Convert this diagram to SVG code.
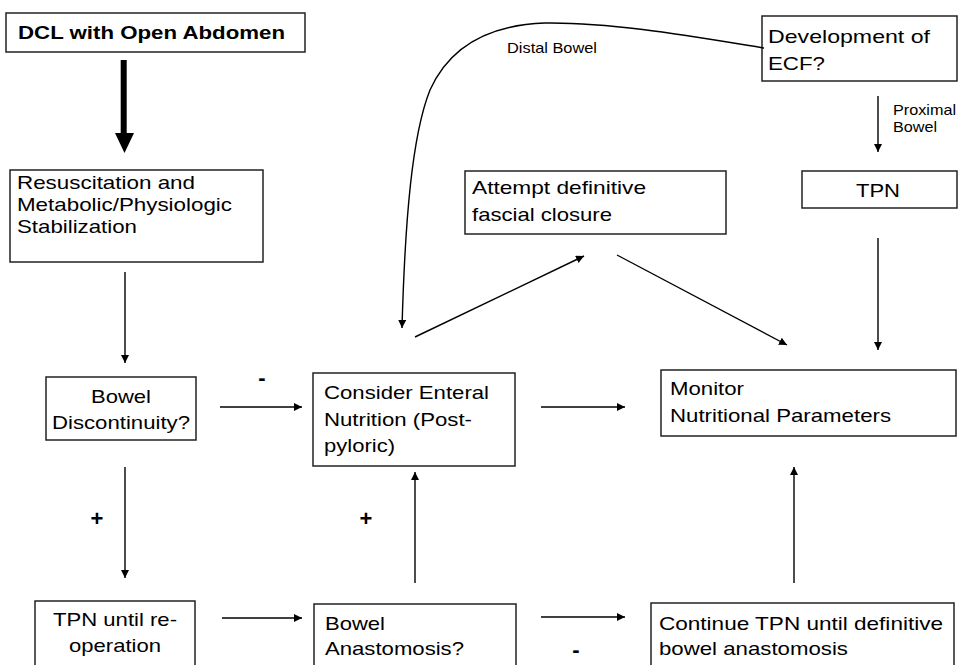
<svg xmlns="http://www.w3.org/2000/svg" width="959" height="665" viewBox="0 0 959 665">
<defs>
<marker id="ah" viewBox="0 0 10 10" refX="10" refY="5" markerWidth="8" markerHeight="8" markerUnits="userSpaceOnUse" orient="auto">
<path d="M0,0 L10,5 L0,10 Z" fill="#000"/>
</marker>
<style>
.box{fill:#fff;stroke:#222;stroke-width:1.5}
.t{font-family:"Liberation Sans",Arial,sans-serif;font-size:18.5px;fill:#000}
.b{font-weight:bold;font-size:18px}
.s{font-size:14.5px}
.c{text-anchor:middle}
.ln{fill:none;stroke:#000;stroke-width:1.4;marker-end:url(#ah)}
.sign{font-family:"Liberation Sans",Arial,sans-serif;font-weight:bold;font-size:22px;fill:#000;text-anchor:middle}
</style>
</defs>
<rect width="959" height="665" fill="#fff"/>

<g id="n-dcl">
<rect class="box" x="6" y="13" width="299" height="39"/>
<text class="t b" x="18" y="39" textLength="267" lengthAdjust="spacingAndGlyphs">DCL with  Open Abdomen</text>
</g>

<g id="n-resus">
<rect class="box" x="10" y="170" width="253" height="92"/>
<text class="t" x="17" y="189" textLength="178" lengthAdjust="spacingAndGlyphs">Resuscitation and</text>
<text class="t" x="17" y="211" textLength="215" lengthAdjust="spacingAndGlyphs">Metabolic/Physiologic</text>
<text class="t" x="17" y="233" textLength="120" lengthAdjust="spacingAndGlyphs">Stabilization</text>
</g>

<g id="n-disc">
<rect class="box" x="46" y="377" width="150" height="63"/>
<text class="t c" x="121" y="403" textLength="60" lengthAdjust="spacingAndGlyphs">Bowel</text>
<text class="t c" x="121" y="429" textLength="138" lengthAdjust="spacingAndGlyphs">Discontinuity?</text>
</g>

<g id="n-enteral">
<rect class="box" x="313" y="373" width="202" height="93"/>
<text class="t" x="324" y="399" textLength="165" lengthAdjust="spacingAndGlyphs">Consider Enteral</text>
<text class="t" x="324" y="426" textLength="148" lengthAdjust="spacingAndGlyphs">Nutrition (Post-</text>
<text class="t" x="324" y="452" textLength="71" lengthAdjust="spacingAndGlyphs">pyloric)</text>
</g>

<g id="n-monitor">
<rect class="box" x="661" y="370" width="295" height="66"/>
<text class="t" x="670" y="395" textLength="74" lengthAdjust="spacingAndGlyphs">Monitor</text>
<text class="t" x="670" y="422" textLength="221" lengthAdjust="spacingAndGlyphs">Nutritional  Parameters</text>
</g>

<g id="n-attempt">
<rect class="box" x="465" y="171" width="261" height="63"/>
<text class="t" x="472" y="194" textLength="174" lengthAdjust="spacingAndGlyphs">Attempt  definitive</text>
<text class="t" x="472" y="221" textLength="140" lengthAdjust="spacingAndGlyphs">fascial closure</text>
</g>

<g id="n-ecf">
<rect class="box" x="762" y="16" width="195" height="65"/>
<text class="t" x="768" y="43" textLength="162" lengthAdjust="spacingAndGlyphs">Development  of</text>
<text class="t" x="768" y="70" textLength="57" lengthAdjust="spacingAndGlyphs">ECF?</text>
</g>

<g id="n-tpn">
<rect class="box" x="802" y="171" width="155" height="37"/>
<text class="t c" x="878" y="197" textLength="44" lengthAdjust="spacingAndGlyphs">TPN</text>
</g>

<g id="n-tpnreop">
<rect class="box" x="35" y="601" width="160" height="70"/>
<text class="t c" x="115" y="626" textLength="124" lengthAdjust="spacingAndGlyphs">TPN until re-</text>
<text class="t c" x="115" y="652" textLength="92" lengthAdjust="spacingAndGlyphs">operation</text>
</g>

<g id="n-anast">
<rect class="box" x="314" y="604" width="202" height="70"/>
<text class="t" x="325" y="630" textLength="60" lengthAdjust="spacingAndGlyphs">Bowel</text>
<text class="t" x="325" y="655" textLength="139" lengthAdjust="spacingAndGlyphs">Anastomosis?</text>
</g>

<g id="n-continue">
<rect class="box" x="651" y="603" width="303" height="70"/>
<text class="t" x="659" y="630" textLength="284" lengthAdjust="spacingAndGlyphs">Continue TPN until definitive</text>
<text class="t" x="659" y="655" textLength="189" lengthAdjust="spacingAndGlyphs">bowel anastomosis</text>
</g>

<g id="connectors">
<rect x="120.7" y="60" width="6" height="74"/>
<path d="M115,133 L134,133 L124.5,153 Z" fill="#000"/>
<line class="ln" x1="125" y1="272" x2="125" y2="363"/>
<line class="ln" x1="220" y1="407" x2="302" y2="407"/>
<line class="ln" x1="541" y1="407" x2="625" y2="407"/>
<line class="ln" x1="125" y1="467" x2="125" y2="578"/>
<line class="ln" x1="222" y1="618" x2="302" y2="618"/>
<line class="ln" x1="541" y1="617" x2="625" y2="617"/>
<line class="ln" x1="415" y1="583" x2="415" y2="472"/>
<line class="ln" x1="794" y1="583" x2="794" y2="467"/>
<line class="ln" x1="878" y1="96" x2="878" y2="152"/>
<line class="ln" x1="878" y1="238" x2="878" y2="350"/>
<line class="ln" x1="415" y1="337" x2="584" y2="256"/>
<line class="ln" x1="617" y1="255" x2="787" y2="345"/>
<path class="ln" d="M764,48 C690,36 610,22 545,23 C485,25 448,50 430,90 C412,135 405,220 402,328"/>
<text class="t s" x="507" y="53" textLength="90" lengthAdjust="spacingAndGlyphs">Distal Bowel</text>
<text class="t s" x="893" y="115" textLength="63" lengthAdjust="spacingAndGlyphs">Proximal</text>
<text class="t s" x="893" y="132" textLength="44" lengthAdjust="spacingAndGlyphs">Bowel</text>
<text class="sign" x="262" y="385">-</text>
<text class="sign" x="97" y="526">+</text>
<text class="sign" x="366" y="526">+</text>
<text class="sign" x="576" y="657">-</text>
</g>
</svg>
